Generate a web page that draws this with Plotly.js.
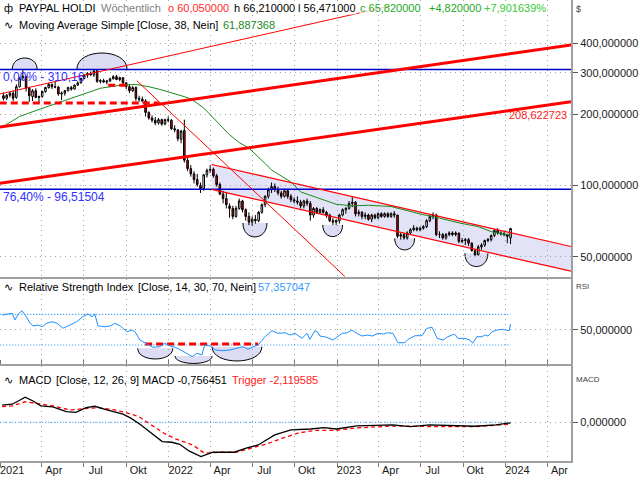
<!DOCTYPE html>
<html><head><meta charset="utf-8">
<script src="https://cdn.plot.ly/plotly-3.0.1.min.js"></script>
<style>html,body{margin:0;padding:0;background:#fff}#chart{width:640px;height:480px}</style>
</head><body><div id="chart"></div>
<script>
// ---------- weekly candles (week ending Friday) ----------
const dates = [
'2021-01-08','2021-01-15','2021-01-22','2021-01-29','2021-02-05','2021-02-12','2021-02-19','2021-02-26','2021-03-05','2021-03-12','2021-03-19','2021-03-26','2021-04-02','2021-04-09','2021-04-16','2021-04-23','2021-04-30','2021-05-07','2021-05-14','2021-05-21','2021-05-28','2021-06-04','2021-06-11','2021-06-18','2021-06-25','2021-07-02','2021-07-09','2021-07-16','2021-07-23','2021-07-30','2021-08-06','2021-08-13','2021-08-20','2021-08-27','2021-09-03','2021-09-10','2021-09-17','2021-09-24','2021-10-01','2021-10-08','2021-10-15','2021-10-22','2021-10-29','2021-11-05','2021-11-12','2021-11-19','2021-11-26','2021-12-03','2021-12-10','2021-12-17','2021-12-24','2021-12-31',
'2022-01-07','2022-01-14','2022-01-21','2022-01-28','2022-02-04','2022-02-11','2022-02-18','2022-02-25','2022-03-04','2022-03-11','2022-03-18','2022-03-25','2022-04-01','2022-04-08','2022-04-15','2022-04-22','2022-04-29','2022-05-06','2022-05-13','2022-05-20','2022-05-27','2022-06-03','2022-06-10','2022-06-17','2022-06-24','2022-07-01','2022-07-08','2022-07-15','2022-07-22','2022-07-29','2022-08-05','2022-08-12','2022-08-19','2022-08-26','2022-09-02','2022-09-09','2022-09-16','2022-09-23','2022-09-30','2022-10-07','2022-10-14','2022-10-21','2022-10-28','2022-11-04','2022-11-11','2022-11-18','2022-11-25','2022-12-02','2022-12-09','2022-12-16','2022-12-23','2022-12-30',
'2023-01-06','2023-01-13','2023-01-20','2023-01-27','2023-02-03','2023-02-10','2023-02-17','2023-02-24','2023-03-03','2023-03-10','2023-03-17','2023-03-24','2023-03-31','2023-04-07','2023-04-14','2023-04-21','2023-04-28','2023-05-05','2023-05-12','2023-05-19','2023-05-26','2023-06-02','2023-06-09','2023-06-16','2023-06-23','2023-06-30','2023-07-07','2023-07-14','2023-07-21','2023-07-28','2023-08-04','2023-08-11','2023-08-18','2023-08-25','2023-09-01','2023-09-08','2023-09-15','2023-09-22','2023-09-29','2023-10-06','2023-10-13','2023-10-20','2023-10-27','2023-11-03','2023-11-10','2023-11-17','2023-11-24','2023-12-01','2023-12-08','2023-12-15','2023-12-22','2023-12-29',
'2024-01-05','2024-01-12'];
const open = [
240,234,241,246,236,262,286,289,258,238,252,236,238,250,260,268,262,261,244,246,252,260,256,266,272,284,293,298,294,306,276,278,274,277,283,289,281,286,272,262,252,260,234,232,228,204,193,189,184,190,182,190,
189,174,172,157,171,128,118,112,106,100,97,111,116,117,110,101,92,88,82,80,74,80,86,79,74,70,72,71,77,83,90,96,99,96,93,90,95,90,87,86,85,82,86,84,75,80,77,79,77,75,71,70,
71,75,79,80,84,85,76,77,74,75,72,75,73,76,74,76,74,76,75,61,62,60,63,65,66,65,66,67,71,74,75,62,62,60,62,63,62,63,58,58.5,59,57,53,51,55,56,58.5,59,61.5,64.5,63,62.5,
62,60.05];
const high = [
247,244,249,252,268,288,309,292,262,256,258,240,252,262,272,270,277,264,250,254,262,264,268,276,286,296,302,304,308,310.16,282,283,280,286,293,294,289,288,274,268,264,263,240,238,232,206,198,195,193,192,192,196,
191,180,173,172,190,131,122,115,112,103,112,118,122,119,112,103,95,93,84,82,82,88,87,80,77,74,75,78,84,91,98,103,102,99,95,97,96,92,89,90,87,87,88,86,81,81,80,81,78,76,73,72,
76,80,81,86,90,86,79,78,77,76,76,76,77,77,77,77,77,78,75,63,63,64,66,68,67,67,68,72,75,77,76,64,63,63,64,64,64,63,60,60,60,57.5,54,56,57,59,60,62,65,66,64,64,
62.5,66.21];
const low = [
229,230,236,228,233,260,280,250,226,228,234,224,235,247,257,256,258,240,230,240,250,252,255,264,270,282,286,291,288,272,270,272,268,274,281,279,276,266,256,246,249,228,226,225,196,190,185,180,181,179,180,185,
172,168,154,151,125,115,109,102,99,93,95,108,113,108,99,91,84,80,73,72,73,79,77,71,68,67.6,69,70,76,81,88,93,94,91,88,89,88,85,84,83,80,80,82,71,73,76,76,76,73,70,68,68,
69,74,76,79,81,74,74,72,72,71,70,72,72,73,73,73,73,73,60,59,59,59,62,64,64,64,65,66,70,72,61,60,59,59,61,61,61,57,57,56,55.5,52.5,50.25,50.5,53.5,55,57.5,58,60.5,62,61.5,61,
57,56.471];
const close = [
234,241,246,234,262,285,290,259,240,252,236,238,250,260,268,262,261,244,246,252,260,256,266,272,284,293,298,294,306,276,278,274,277,283,289,281,286,272,262,252,260,234,232,228,204,193,189,184,190,182,190,189,
174,172,158,170,128,118,112,106,101,97,111,116,117,110,101,92,88,83,80,74,80,86,79,74,70,72,71,77,83,90,96,99,96,93,90,95,90,87,86,85,82,86,84,75,80,77,79,77,75,71,70,71,
75,79,80,84,85,76,77,74,75,72,75,73,76,74,76,74,76,75,61,62,60,63,65,66,65,66,67,71,74,75,62,62,60,62,63,62,63,58,58.5,59,57,53,51,55,56,58.5,59,61.5,64.5,63,62.5,62,
61,65.82];

// ---------- indicators ----------
const maDates = ['2021-01-08','2021-02-12','2021-03-26','2021-05-14','2021-06-25','2021-08-06','2021-09-17','2021-10-22','2021-11-19','2021-12-17','2022-01-28','2022-02-18','2022-03-18','2022-04-15','2022-05-13','2022-06-03','2022-06-24','2022-07-29','2022-08-12','2022-09-23','2022-10-14','2022-11-18','2022-12-30','2023-02-03','2023-03-10','2023-04-28','2023-05-19','2023-06-30','2023-08-11','2023-09-22','2023-11-03','2023-12-01','2023-12-29','2024-01-12'];
const maValues = [178,196,210,227,241,258,265.5,268,262,254,240,233,213,187,164,152,144,124,116.4,103.5,94,89,83.3,82,82.5,81.5,79.5,75.8,72.8,69.5,67,63.8,62.2,61.887];

const rsiDates = ['2021-01-05','2021-01-16','2021-01-27','2021-02-02','2021-02-09','2021-02-17','2021-02-24','2021-03-07','2021-03-13','2021-03-24','2021-04-02','2021-04-12','2021-04-23','2021-05-04','2021-05-17','2021-06-01','2021-06-16','2021-06-29','2021-07-10','2021-07-19','2021-07-25','2021-08-01','2021-08-16','2021-08-27','2021-09-07','2021-09-18','2021-10-03','2021-10-14','2021-10-20','2021-10-31','2021-11-15','2021-11-28','2021-12-13','2021-12-24','2022-01-04','2022-01-15','2022-01-30','2022-02-10','2022-02-21','2022-03-03','2022-03-14','2022-03-20','2022-04-01','2022-04-12','2022-04-27','2022-05-14','2022-05-29','2022-06-11','2022-06-22','2022-07-03','2022-07-14','2022-07-29','2022-08-13','2022-08-26','2022-09-10','2022-09-21','2022-10-02','2022-10-17','2022-10-28','2022-11-03','2022-11-14','2022-11-21','2022-11-25','2022-12-10','2022-12-23','2023-01-12','2023-01-23','2023-02-02','2023-02-13','2023-02-24','2023-03-07','2023-03-18','2023-03-31','2023-04-11','2023-04-21','2023-05-02','2023-05-13','2023-05-28','2023-06-04','2023-06-19','2023-07-04','2023-07-15','2023-07-26','2023-08-06','2023-08-19','2023-08-29','2023-09-07','2023-09-13','2023-09-20','2023-10-05','2023-10-16','2023-10-22','2023-10-31','2023-11-11','2023-11-17','2023-11-24','2023-12-03','2023-12-14','2023-12-25','2024-01-04','2024-01-09','2024-01-12'];
const rsiValues = [69,70.4,71.3,62.6,70.4,74.7,69,58.3,54.8,56,53.8,58.3,60.4,58.3,51.8,56,60.4,66.9,70.4,66.9,70.4,54.8,53.8,54.8,58.3,54.8,47.3,49.5,47.3,36.5,31.3,27,27.8,32.2,28.7,27,22.6,18.3,14.8,19.2,17,30,28.7,23.5,22.6,23.5,25.7,27.8,24.4,27.8,30,40.8,48.6,45.2,46,43,45.2,38.7,45.2,37.4,48.6,46,41.7,40,36.5,45.2,46,49.5,45.2,41.7,43,41.7,45.2,44.3,46,45.2,33,33,37.4,42.1,42.1,51.8,53,38.7,36.5,40.8,43,44,38.7,38.7,36.5,32.2,40.8,40.8,43,41.7,47.3,49.5,50.5,49.5,48.6,57.357];

const macdDates = ['2021-01-05','2021-01-27','2021-02-09','2021-02-24','2021-03-13','2021-03-30','2021-04-25','2021-05-24','2021-06-14','2021-07-06','2021-07-25','2021-08-20','2021-09-24','2021-10-11','2021-11-02','2021-11-26','2021-12-18','2022-01-08','2022-01-25','2022-02-14','2022-03-12','2022-04-07','2022-05-23','2022-06-18','2022-07-14','2022-08-19','2022-09-23','2022-11-05','2022-12-03','2022-12-30','2023-02-13','2023-05-02','2023-06-08','2023-07-21','2023-09-04','2023-10-27','2023-12-11','2024-01-12'];
const macdValues = [21,22,26,30.5,26,20,18.7,13,12,17.8,19.5,15,10,5,-3.3,-13.4,-23.6,-24.4,-26.9,-35,-42,-36.6,-36.6,-31.7,-27.7,-15.5,-9.4,-8.2,-6.5,-8.2,-4.5,-3.3,-5.3,-3.3,-4.1,-4.9,-3.3,-0.756];
const trigDates = ['2021-01-05','2021-01-27','2021-02-24','2021-03-22','2021-04-25','2021-06-01','2021-06-27','2021-07-31','2021-09-06','2021-10-02','2021-10-28','2021-11-26','2021-12-22','2022-01-16','2022-02-22','2022-03-20','2022-04-24','2022-05-27','2022-06-26','2022-07-30','2022-09-05','2022-10-10','2022-11-16','2022-12-30','2023-02-13','2023-05-02','2023-07-29','2023-10-27','2024-01-05','2024-01-12'];
const trigValues = [19,20,25,23,20,15,16.5,17.9,15,11.6,6.9,-3.3,-13.4,-20.3,-27.7,-37.9,-36.6,-36.6,-31.7,-26.9,-19.5,-13,-9.8,-9.8,-6.9,-4.6,-5.3,-5.3,-2.6,-2.12];

// ---------- drawing tools (date / price anchors) ----------
const fibLevels = [310.16, 96.51504];
const supportDates = ['2020-12-31','2021-12-11']; const supportLevel = 223.6;
const neckDates = ['2021-08-23','2021-10-05']; const neckLevel = 266;
const rsiSupportDates = ['2021-11-11','2022-07-14']; const rsiSupportLevel = 31.3;
const thickUpDates = ['2020-12-31','2024-05-22'];
const thickUpper = [177, 393.4];
const thickLower = [102.2, 226.4];
const thinUpDates = ['2020-12-31','2023-04-26']; const thinUpPrices = [244, 575];
const thinDownDates = ['2021-10-24','2023-01-18']; const thinDownPrices = [277.8, 41.2];
const channelDates = ['2022-04-04','2024-05-22'];
const channelUpper = [122.7, 55.2];
const channelLower = [96.4, 43.4];
const domeStart = ['2021-01-27','2021-06-16'], domeEnd = ['2021-03-22','2021-10-03'], domePeak = [346.6, 363.9];
const bowlStart = ['2022-06-11','2022-12-01','2023-05-06','2023-10-05'], bowlEnd = ['2022-08-02','2023-01-13','2023-06-18','2023-11-24'];
const bowlTop = [69.4, 68.1, 59.8, 51.7], bowlBottom = [60.6, 60.8, 53.4, 45.4];
const rBowlStart = ['2021-10-26','2022-01-15','2022-04-05'], rBowlEnd = ['2022-01-10','2022-04-05','2022-07-22'];
const rBowlTop = [25.7, 15.7, 27.8], rBowlBottom = [11.8, 6.0, 9.2];

const quarterTicks = ['2021-01-01','2021-04-01','2021-07-01','2021-10-01','2022-01-01','2022-04-01','2022-07-01','2022-10-01','2023-01-01','2023-04-01','2023-07-01','2023-10-01','2024-01-01','2024-04-01'];
const quarterLabels = ['2021','Apr','Jul','Okt','2022','Apr','Jul','Okt','2023','Apr','Jul','Okt','2024','Apr'];
const priceTicks = [50,100,200,300,400];
const priceLabels = ['50,000000','100,000000','200,000000','300,000000','400,000000'];

const lastDate = dates[dates.length-1];
const firstLine = '2021-01-01';

const traces = [];
traces.push({type:'candlestick', x:dates, open:open, high:high, low:low, close:close, xaxis:'x', yaxis:'y',
  increasing:{line:{color:'#000', width:1}, fillcolor:'#ffffff'},
  decreasing:{line:{color:'#000', width:1}, fillcolor:'#e00000'},
  whiskerwidth:0, hoverinfo:'skip', showlegend:false});
function line(x, y, color, width, dash, yaxis){
  traces.push({type:'scatter', mode:'lines', x:x, y:y, xaxis:'x', yaxis:yaxis||'y',
    line:{color:color, width:width, dash:dash||'solid'}, hoverinfo:'skip', showlegend:false, cliponaxis:true});
}
line(maDates, maValues, '#1a8a1a', 1);
fibLevels.forEach(v => line(['2020-12-31','2024-05-25'], [v, v], '#0000cc', 1.5));
line(supportDates, [supportLevel, supportLevel], '#ff0000', 3, '7px,4px');
line(neckDates, [neckLevel, neckLevel], '#ff0000', 3, '7px,4px');
line(thickUpDates, thickUpper, '#ff0000', 3);
line(thickUpDates, thickLower, '#ff0000', 3);
line(thinUpDates, thinUpPrices, '#ff0000', 1);
line(thinDownDates, thinDownPrices, '#ff0000', 1);
line(channelDates, channelUpper, '#ff0000', 1.2);
line(channelDates, channelLower, '#ff0000', 1.2);
// RSI
line([firstLine, lastDate], [70, 70], '#1e90ff', 1.2, '1px,2px', 'y2');
line([firstLine, lastDate], [30, 30], '#1e90ff', 1.2, '1px,2px', 'y2');
line(rsiSupportDates, [rsiSupportLevel, rsiSupportLevel], '#ff0000', 3, '7px,4px', 'y2');
line(rsiDates, rsiValues, '#1e90ff', 1, 'solid', 'y2');
// MACD
line([firstLine, lastDate], [0, 0], '#1e90ff', 1.2, '1px,2px', 'y3');
line(trigDates, trigValues, '#ff0000', 1.3, '4px,3px', 'y3');
line(macdDates, macdValues, '#000000', 1.3, 'solid', 'y3');

// ---------- shapes ----------
const shapes = [];
shapes.push({type:'path', xref:'x', yref:'y', layer:'below', line:{width:0}, fillcolor:'#e3e3f8',
  path:`M ${channelDates[0]},${channelUpper[0]} L ${channelDates[1]},${channelUpper[1]} L ${channelDates[1]},${channelLower[1]} L ${channelDates[0]},${channelLower[0]} Z`});
function halfEllipse(x0, x1, base, peak, isLog){
  const c = isLog ? base*Math.pow(peak/base, 4/3) : base + (peak-base)*4/3;
  return `M ${x0},${base} C ${x0},${c} ${x1},${c} ${x1},${base}`;
}
for (let i=0;i<domeStart.length;i++) shapes.push({type:'path', xref:'x', yref:'y', layer:'below',
  line:{color:'#000', width:1}, fillcolor:'#dcdcf5', path:halfEllipse(domeStart[i], domeEnd[i], fibLevels[0], domePeak[i], true)});
for (let i=0;i<bowlStart.length;i++) shapes.push({type:'path', xref:'x', yref:'y', layer:'below',
  line:{color:'#000', width:1}, fillcolor:'#dcdcf5', path:halfEllipse(bowlStart[i], bowlEnd[i], bowlTop[i], bowlBottom[i], true)});
for (let i=0;i<rBowlStart.length;i++) shapes.push({type:'path', xref:'x', yref:'y2', layer:'below',
  line:{color:'#000', width:1}, fillcolor:'#dcdcf5', path:halfEllipse(rBowlStart[i], rBowlEnd[i], rBowlTop[i], rBowlBottom[i], false)});

// ---------- texts ----------
const W = 571, H = 461;
const ann = [];
function txt(px, py, text, color, size, anchor, bg){
  ann.push({xref:'paper', yref:'paper', x:px/W, y:(H-py)/H, text:text, showarrow:false,
    xanchor:anchor||'left', yanchor:'middle', font:{color:color, size:size||11}, bgcolor:bg||'rgba(0,0,0,0)', borderpad:0});
}
const hb = 'rgba(255,255,255,0.75)';
txt(3, 8, 'ф', '#000', 11, 'left', hb);
txt(18, 8, 'PAYPAL HOLDI', '#000', 11, 'left', hb);
txt(100, 8, 'Wöchentlich', '#808080', 11, 'left', hb);
txt(167, 8, 'o 60,050000', '#ff2a2a', 11, 'left', hb);
txt(233, 8, 'h 66,210000', '#000', 11, 'left', hb);
txt(297, 8, 'l 56,471000', '#000', 11, 'left', hb);
txt(359, 8, 'c 65,820000', '#22aa22', 11, 'left', hb);
txt(428, 8, '+4,820000', '#22aa22', 11, 'left', hb);
txt(483, 8, '+7,901639%', '#33cc33', 11, 'left', hb);
txt(3, 25, '∿', '#000', 11, 'left', hb);
txt(18, 25, 'Moving Average Simple', '#000', 11, 'left', hb);
txt(136, 25, '[Close, 38, Nein]', '#000', 11, 'left', hb);
txt(222, 25, '61,887368', '#1a8a1a', 11, 'left', hb);
txt(2, 77, '0,00% - 310,16', '#3030ff', 12);
txt(2, 197, '76,40% - 96,51504', '#3030ff', 12);
txt(568, 115, '208,622723', '#ff2020', 11, 'right');
txt(3, 287, '∿', '#000', 11);
txt(18, 287, 'Relative Strength Index', '#000', 11);
txt(137, 287, '[Close, 14, 30, 70, Nein]', '#000', 11);
txt(257, 287, '57,357047', '#3399ff', 11);
txt(3, 380, '∿', '#000', 11);
txt(18, 380, 'MACD', '#000', 11);
txt(55, 380, '[Close, 12, 26, 9]', '#000', 11);
txt(141, 380, 'MACD -0,756451', '#000', 11);
txt(231, 380, 'Trigger -2,119585', '#ff2020', 11);
txt(575, 9, '$', '#444', 9);
txt(575, 286, 'RSI', '#444', 8);
txt(575, 379, 'MACD', '#444', 8);

const grid = {showgrid:true, gridcolor:'#a0a8a0', griddash:'1px,4px', gridwidth:1};
const yBase = Object.assign({side:'right', anchor:'x', tickmode:'array', ticks:'outside', ticklen:5, tickcolor:'#555',
  showline:true, linecolor:'#a0a0a0', linewidth:2, mirror:true, zeroline:false, fixedrange:true,
  tickfont:{size:11, color:'#1a1a1a'}}, grid);

const layout = {
  width:640, height:480, margin:{l:0, r:69, t:0, b:19, pad:0},
  paper_bgcolor:'#ffffff', plot_bgcolor:'#ffffff', showlegend:false, dragmode:false,
  font:{family:'Liberation Sans, Arial, sans-serif', size:11, color:'#1a1a1a'},
  xaxis:Object.assign({type:'date', anchor:'y3', range:['2020-12-31 12:00','2024-05-22'], tickmode:'array',
    tickvals:quarterTicks, ticktext:quarterLabels, ticks:'outside', ticklen:4, tickcolor:'#777', ticklabelshift:12,
    ticklabelstandoff:-6, ticklabeloverflow:'allow',
    showline:true, linecolor:'#a0a0a0', linewidth:2, mirror:'all', zeroline:false, fixedrange:true,
    rangeslider:{visible:false}, tickfont:{size:11, color:'#1a1a1a'}}, grid),
  yaxis:Object.assign({}, yBase, {domain:[0.3991,1], type:'log', range:[Math.log10(41.0), 2.7853], tickvals:priceTicks, ticktext:priceLabels}),
  yaxis2:Object.assign({}, yBase, {domain:[0.2104,0.3948], range:[5.24,116], tickvals:[50], ticktext:['50,000000']}),
  yaxis3:Object.assign({}, yBase, {domain:[0,0.2061], range:[-47.3,68.7], tickvals:[0], ticktext:['0,000000']}),
  shapes:shapes, annotations:ann
};
Plotly.newPlot('chart', traces, layout, {displayModeBar:false, staticPlot:true});
</script></body></html>
